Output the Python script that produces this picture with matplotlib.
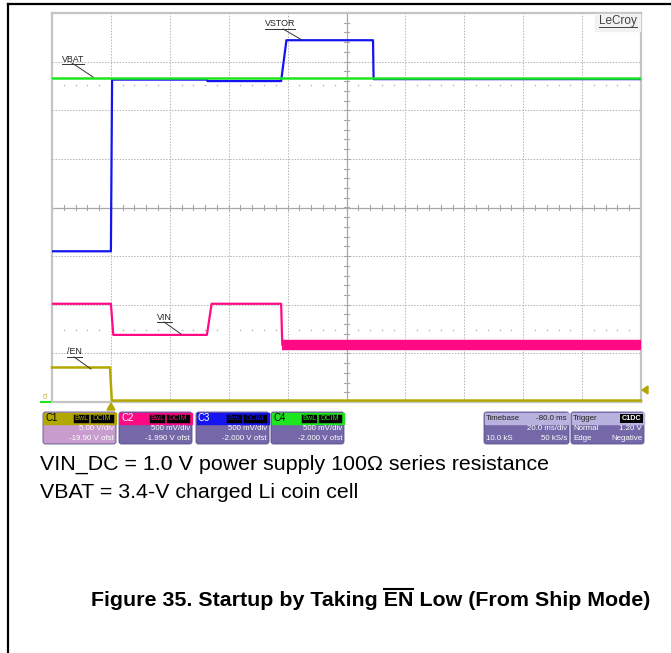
import numpy as np
import matplotlib
matplotlib.use('Agg')
import matplotlib.pyplot as plt
from matplotlib.patches import FancyBboxPatch, Rectangle, Polygon

plt.rcParams['font.family'] = ['Liberation Sans', 'DejaVu Sans']

# ── Scope traces (time in ms, level in screen divisions) ─────────────────────
vbat_t = [-20, 180]
vbat_div = [2.67, 2.67]

vstor_t = [-20, 0.0, 0.4, 32.6, 32.8, 57.8, 59.6, 89.0, 89.2, 180]
vstor_div = [-0.90, -0.90, 2.63, 2.63, 2.60, 2.60, 3.44, 3.44, 2.64, 2.64]

vin_t = [-20, 0.0, 0.8, 32.6, 34.2, 57.8, 58.2]
vin_div = [-1.98, -1.98, -2.62, -2.62, -1.98, -1.98, -2.82]
vin_ripple_t = [58.2, 180]
vin_ripple_div = [-2.82, -2.82]

en_t = [-20, -0.3, 0.3, 180]
en_div = [-3.29, -3.29, -3.97, -3.97]

# ── Readout boxes ─────────────────────────────────────────────────────────────
ch_names = ['C1', 'C2', 'C3', 'C4']
ch_scale = ['5.00 V/div', '500 mV/div', '500 mV/div', '500 mV/div']
ch_offset = ['-19.90 V ofst', '-1.990 V ofst', '-2.000 V ofst', '-2.000 V ofst']
timebase_rows = [('Timebase', '-80.0 ms'), ('', '20.0 ms/div'), ('10.0 kS', '50 kS/s')]
trigger_rows = [('Trigger', ''), ('Normal', '1.20 V'), ('Edge', 'Negative')]

note_lines = ['VIN_DC = 1.0 V power supply 100\u03a9 series resistance',
              'VBAT = 3.4-V charged Li coin cell']
title_pre = 'Figure 35. Startup by Taking '
title_bar = 'EN'
title_post = ' Low (From Ship Mode)'

C_OLIVE = '#b3a800'
C_PINK = '#ff0a84'
C_BLUE = '#1414f0'
C_GREEN = '#1ee61e'
C_BODY = '#7468a8'
C_HEAD = '#b8b2de'

W, H = 671, 653
fig = plt.figure(figsize=(W / 100, H / 100), dpi=100)

# scope screen
L, T, R, B = 52, 13, 641, 402
ax = fig.add_axes([L / W, 1 - B / H, (R - L) / W, (B - T) / H])
ax.set_xlim(-20, 180)
ax.set_ylim(-4, 4)
ax.set_xticks([])
ax.set_yticks([])
for s in ax.spines.values():
    s.set_color('#c4c4c4')
    s.set_linewidth(1.6)

# overlay in pixel coordinates, drawn above the scope
ov = fig.add_axes([0, 0, 1, 1])
ov.set_xlim(0, W)
ov.set_ylim(H, 0)
ov.axis('off')
ov.set_zorder(5)

grid_kw = dict(color='#b4b4b4', lw=0.7, ls=(0, (1.5, 1.5)), zorder=1)
for gx in np.arange(0, 180, 20):
    if gx != 80:
        ax.axvline(gx, **grid_kw)
for gy in range(-3, 4):
    if gy != 0:
        ax.axhline(gy, **grid_kw)
ax.axvline(80, color='#a8a8a8', lw=0.9, zorder=1)
ax.axhline(0, color='#a8a8a8', lw=0.9, zorder=1)
# tick marks on centre axes
for tx in np.arange(-20, 180.1, 4):
    ax.plot([tx, tx], [-0.05, 0.05], color='#a8a8a8', lw=0.8, zorder=1)
for ty in np.arange(-4, 4.01, 0.2):
    ax.plot([79.3, 80.7], [ty, ty], color='#a8a8a8', lw=0.8, zorder=1)
# dotted reference rows
for ry in (2.52, -2.51):
    xs = [x for x in np.arange(-16, 180, 4) if x % 20 != 0]
    ax.scatter(xs, [ry] * len(xs), s=1.2, color='#b0b0b0', lw=0, zorder=1)

ax.plot(en_t, en_div, color=C_OLIVE, lw=1.8, zorder=3, clip_on=False)
ax.plot(vin_t, vin_div, color=C_PINK, lw=1.6, zorder=3)
ax.plot(vin_ripple_t, vin_ripple_div, color=C_PINK, lw=7.5, zorder=3,
        solid_capstyle='butt')
ax.plot(vstor_t, vstor_div, color=C_BLUE, lw=1.6, zorder=4)
ax.plot(vbat_t, vbat_div, color=C_GREEN, lw=1.8, zorder=5)

# trace labels with leaders
labels = [('VBAT', 62, 59, (72, 63), (93, 77)),
          ('VSTOR', 265, 24, (283, 29), (302, 40)),
          ('VIN', 157, 317, (164, 322), (181, 334)),
          ('/EN', 67, 352, (74, 357), (91, 369))]
for txt, x, y, p0, p1 in labels:
    t = ov.text(x, y, txt, fontsize=6.4, color='#222222', va='center', ha='left')
    fig.canvas.draw()
    bb = t.get_window_extent().transformed(ov.transData.inverted())
    ov.plot([bb.x0, bb.x1], [y + 4.5, y + 4.5], color='#333333', lw=0.7)
    ov.plot([p0[0], p1[0]], [p0[1], p1[1]], color='#333333', lw=0.7)

# LeCroy logo
ov.add_patch(Rectangle((595, 14), 45, 17, color='#f2f2f2', zorder=2))
t = ov.text(618, 21, 'LeCroy', fontsize=8.5, color='#444444', ha='center', va='center',
            zorder=3)
ov.plot([599, 637], [27, 27], color='#444444', lw=0.7, zorder=3)

# trigger markers
ov.add_patch(Polygon([[107, 410], [115, 410], [111, 403]], color=C_OLIVE))
ov.add_patch(Polygon([[642, 390], [648, 386], [648, 394]], color=C_OLIVE))
ov.text(46, 395, 'C1', fontsize=4, color=C_OLIVE, rotation=90, ha='center', va='center')
ov.plot([41, 50], [402, 402], color=C_GREEN, lw=1.5)

# channel readout boxes
box_x = [43, 119, 196, 271]
head_col = [C_OLIVE, C_PINK, C_BLUE, C_GREEN]
body_col = ['#c89ccc', C_BODY, C_BODY, C_BODY]
head_txt = ['black', 'white', 'white', 'black']
bw = 73
y0, yh, y1 = 412, 423, 444
fs = 5.7
for i, x in enumerate(box_x):
    ov.add_patch(FancyBboxPatch((x, y0), bw, y1 - y0,
                                boxstyle='round,pad=0,rounding_size=2.5',
                                fc=body_col[i], ec='#5a5090', lw=0.6))
    ov.add_patch(Rectangle((x + 0.5, y0 + 0.5), bw - 1, yh - y0, color=head_col[i]))
    ov.text(x + 2, (y0 + yh) / 2 + 0.5, ch_names[i], fontsize=7, color=head_txt[i],
            va='center')
    ov.add_patch(Rectangle((x + 30, y0 + 1.5), 16, 9, fc='black', ec=head_col[i], lw=0.4))
    ov.add_patch(Rectangle((x + 47, y0 + 1.5), 24, 9, fc='black', ec=head_col[i], lw=0.4))
    ov.text(x + 38, y0 + 6.3, 'BwL', fontsize=5.2, color=head_col[i], ha='center',
            va='center')
    ov.text(x + 59, y0 + 6.3, 'DCIM', fontsize=5.2, color=head_col[i], ha='center',
            va='center')
    ov.text(x + bw - 2, 429, ch_scale[i], fontsize=fs, color='white', ha='right',
            va='center')
    ov.text(x + bw - 2, 439, ch_offset[i], fontsize=fs, color='white', ha='right',
            va='center')

# timebase / trigger boxes
for x, w, rows in [(484, 85, timebase_rows), (571, 73, trigger_rows)]:
    ov.add_patch(FancyBboxPatch((x, y0), w, y1 - y0,
                                boxstyle='round,pad=0,rounding_size=2.5',
                                fc=C_BODY, ec='#5a5090', lw=0.6))
    ov.add_patch(Rectangle((x + 0.5, y0 + 0.5), w - 1, yh - y0, color=C_HEAD))
    for j, (lt, rt) in enumerate(rows):
        yy = [418, 429, 439][j]
        c = '#222222' if j == 0 else 'white'
        ov.text(x + 2, yy, lt, fontsize=fs, color=c, ha='left', va='center')
        ov.text(x + w - 2, yy, rt, fontsize=fs, color=c, ha='right', va='center')
ov.add_patch(Rectangle((620, y0 + 1.5), 23, 9, fc='black'))
ov.text(631.5, y0 + 6.3, 'C1DC', fontsize=5.2, color='white', ha='center', va='center',
        fontweight='bold')

# notes
ov.text(40, 464, note_lines[0], fontsize=15.4, color='black', va='center')
ov.text(40, 492, note_lines[1], fontsize=15.4, color='black', va='center')

# title with overline on EN
tx0, ty = 91, 601
tkw = dict(fontsize=15.4, fontweight='bold', color='black', va='center')
tt = ov.text(tx0, ty, title_pre + title_bar + title_post, **tkw)
fig.canvas.draw()
inv = ov.transData.inverted()
m1 = ov.text(tx0, ty, title_pre + title_bar, alpha=0, **tkw)
m2 = ov.text(tx0, ty, title_bar, alpha=0, **tkw)
fig.canvas.draw()
e1 = m1.get_window_extent().transformed(inv)
e2 = m2.get_window_extent().transformed(inv)
bar_w = e2.x1 - e2.x0
ov.plot([e1.x1 - bar_w + 0.5, e1.x1 - 0.5], [588.5, 588.5], color='black', lw=1.5)

# page frame
ov.plot([8, W], [4, 4], color='black', lw=1.6)
ov.plot([8, 8], [4, H], color='black', lw=1.6)

fig.savefig('out.png', dpi=100)
